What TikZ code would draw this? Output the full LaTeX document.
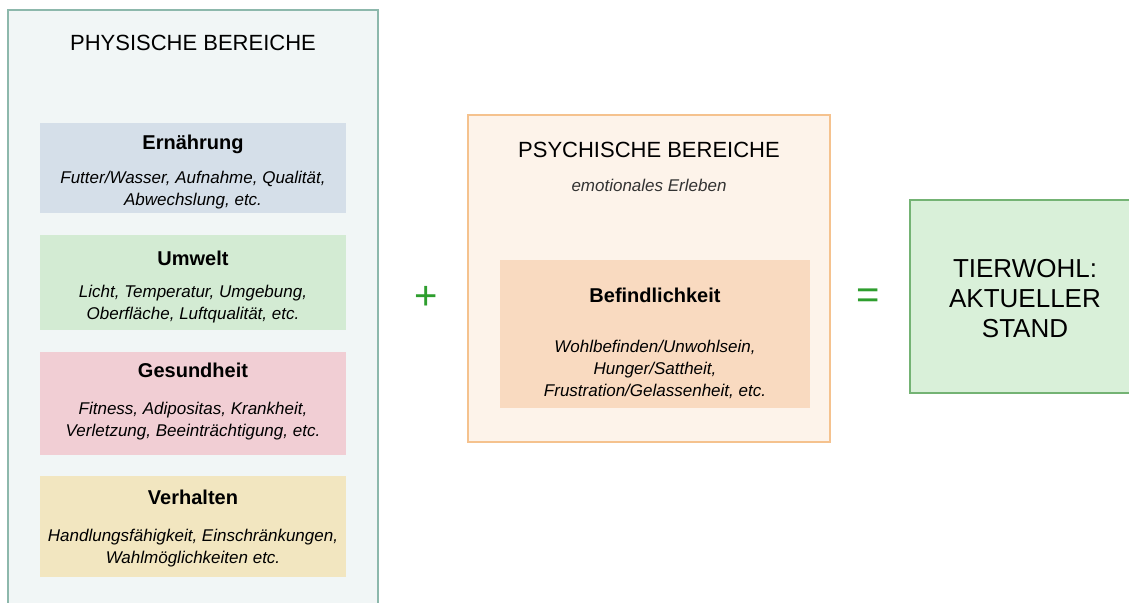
\documentclass[tikz,border=0pt]{standalone}
\usepackage{fontspec}
\setmainfont{Liberation Sans}
\usepackage{xcolor}
\usetikzlibrary{positioning}
\definecolor{clrPhysLine}{HTML}{8DB8AC}
\definecolor{clrPhysFill}{HTML}{F1F6F6}
\definecolor{clrPsyLine} {HTML}{F5C28E}
\definecolor{clrPsyFill} {HTML}{FDF3EA}
\definecolor{clrBoxBlue} {HTML}{D5DFE9}
\definecolor{clrBoxGreen}{HTML}{D3EBD3}
\definecolor{clrBoxRed}  {HTML}{F1CED4}
\definecolor{clrBoxYell} {HTML}{F2E6C0}
\definecolor{clrBoxPeach}{HTML}{F9DAC0}
\definecolor{clrWohlFill}{HTML}{D9F0D9}
\definecolor{clrWohlLine}{HTML}{74B374}
\definecolor{clrSign}    {HTML}{2E9E2E}

\begin{document}
\begin{tikzpicture}[x=1pt, y=-1pt,
  area/.style={line width=1.2pt, inner sep=0pt},
  box/.style={inner sep=0pt, minimum width=306pt},
  boxtxt/.style={inner sep=0pt, align=center,
                 font=\fontsize{17}{22}\selectfont},
  lbl/.style={font=\fontsize{22}{26}\selectfont},
  note/.style={font=\fontsize{17}{20}\selectfont\itshape, text=black!80},
  sign/.style={font=\fontsize{40}{40}\selectfont, text=clrSign},
]
\clip (0,0) rectangle (1129,602);
\fill[white] (0,0) rectangle (1129,602);

% physische Bereiche
\node[area, draw=clrPhysLine, fill=clrPhysFill, minimum width=370pt,
      minimum height=602pt] (phys) at (193,311) {};
\node[lbl] (physT) at (193,43) {PHYSISCHE BEREICHE};

\node[box, fill=clrBoxBlue, minimum height=90pt] (ern) at (193,168) {};
\node[boxtxt] (ernT) at (193,172)
  {{\bfseries\fontsize{20}{24}\selectfont Ernährung}\\[12pt]
   \textit{Futter/Wasser, Aufnahme, Qualität,}\\ \textit{Abwechslung, etc.}};

\node[box, fill=clrBoxGreen, minimum height=95pt] (umw) at (193,282.5) {};
\node[boxtxt] (umwT) at (193,287)
  {{\bfseries\fontsize{20}{24}\selectfont Umwelt}\\[10pt]
   \textit{Licht, Temperatur, Umgebung,}\\ \textit{Oberfläche, Luftqualität, etc.}};

\node[box, fill=clrBoxRed, minimum height=103pt] (ges) at (193,403.5) {};
\node[boxtxt] (gesT) at (193,401.5)
  {{\bfseries\fontsize{20}{24}\selectfont Gesundheit}\\[15pt]
   \textit{Fitness, Adipositas, Krankheit,}\\ \textit{Verletzung, Beeinträchtigung, etc.}};

\node[box, fill=clrBoxYell, minimum height=101pt] (ver) at (193,526.5) {};
\node[boxtxt] (verT) at (193,529)
  {{\bfseries\fontsize{20}{24}\selectfont Verhalten}\\[15pt]
   \textit{Handlungsfähigkeit, Einschränkungen,}\\ \textit{Wahlmöglichkeiten etc.}};

\node[sign] (plus) at (426,298) {+};

% psychische Bereiche
\node[area, draw=clrPsyLine, fill=clrPsyFill, minimum width=362pt,
      minimum height=327pt] (psy) at (649,278.5) {};
\node[lbl] (psyT) at (649,150) {PSYCHISCHE BEREICHE};
\node[note] (psyS) at (649,185) {emotionales Erleben};

\node[box, fill=clrBoxPeach, minimum width=310pt, minimum height=148pt]
  (bef) at (655,334) {};
\node[boxtxt] (befT) at (655,343)
  {{\bfseries\fontsize{20}{24}\selectfont Befindlichkeit}\\[28pt]
   \textit{Wohlbefinden/Unwohlsein,}\\ \textit{Hunger/Sattheit,}\\
   \textit{Frustration/Gelassenheit, etc.}};

\node[sign] (eq) at (868,299) {=};

% Ergebnis
\node[area, draw=clrWohlLine, fill=clrWohlFill, minimum width=230pt,
      minimum height=193pt] (wohl) at (1025,296.5) {};
\node[align=center, font=\fontsize{26}{30}\selectfont] (wohlT)
  at (1025,298.5) {TIERWOHL:\\AKTUELLER\\STAND};
\end{tikzpicture}
\end{document}
